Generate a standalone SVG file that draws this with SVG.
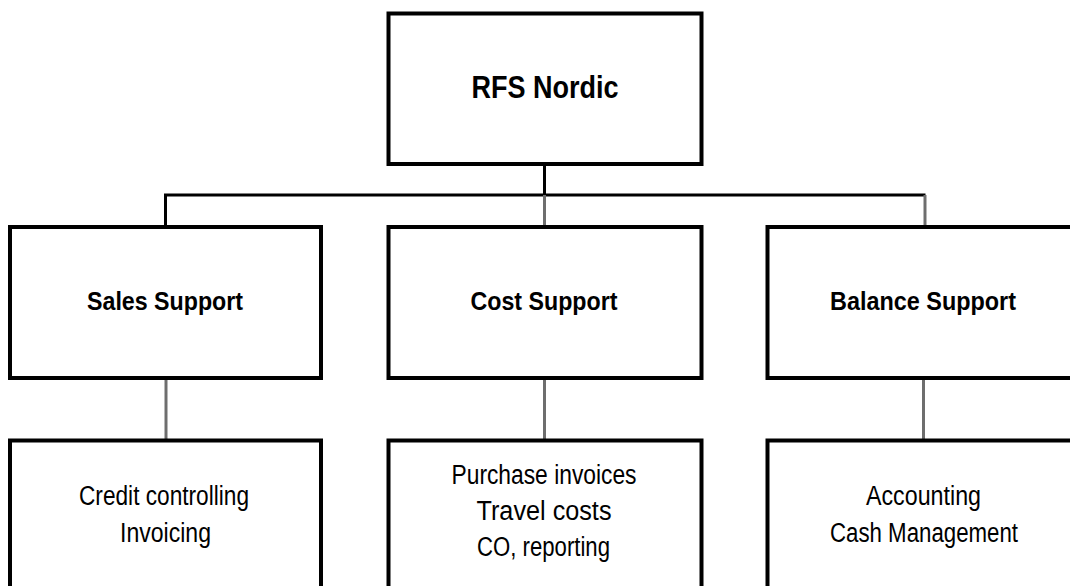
<svg xmlns="http://www.w3.org/2000/svg" width="1070" height="586" viewBox="0 0 1070 586">
<style>
.box{fill:#fff;stroke:#000;stroke-width:4}
.t{font-family:"Liberation Sans",Arial,sans-serif;fill:#000;text-anchor:middle}
.b{font-weight:bold;font-size:26px}
.r{font-size:27px}
.c{stroke:#000;stroke-width:3;fill:none}
.g{stroke:#6e6e6e;stroke-width:3;fill:none}
</style>
<rect width="1070" height="586" fill="#fff"/>
<g id="connectors">
<line class="c" x1="544.5" y1="166" x2="544.5" y2="195"/>
<line class="c" x1="164" y1="195" x2="925.5" y2="195"/>
<line class="c" x1="165.5" y1="195" x2="165.5" y2="226"/>
<line class="g" x1="544.5" y1="195" x2="544.5" y2="226"/>
<line class="g" x1="925" y1="195" x2="925" y2="226"/>
<line class="g" x1="166" y1="379" x2="166" y2="439"/>
<line class="g" x1="544.5" y1="379" x2="544.5" y2="439"/>
<line class="g" x1="923.5" y1="379" x2="923.5" y2="439"/>
</g>
<g id="rfs-nordic">
<rect class="box" x="388.5" y="13.5" width="313" height="150.5"/>
<text class="t" x="545" y="98" font-size="31" font-weight="bold" textLength="147" lengthAdjust="spacingAndGlyphs">RFS Nordic</text>
</g>
<g id="sales-support">
<rect class="box" x="10" y="227" width="311" height="151"/>
<text class="t b" x="165" y="310" textLength="156" lengthAdjust="spacingAndGlyphs">Sales Support</text>
</g>
<g id="cost-support">
<rect class="box" x="388.5" y="227" width="313" height="151"/>
<text class="t b" x="544" y="310" textLength="147" lengthAdjust="spacingAndGlyphs">Cost Support</text>
</g>
<g id="balance-support">
<rect class="box" x="767.5" y="227" width="320" height="151"/>
<text class="t b" x="923" y="310" textLength="186" lengthAdjust="spacingAndGlyphs">Balance Support</text>
</g>
<g id="sales-tasks">
<rect class="box" x="10" y="440.5" width="311" height="160"/>
<text class="t r" x="164" y="505" textLength="170" lengthAdjust="spacingAndGlyphs">Credit controlling</text>
<text class="t r" x="165.5" y="541.5" textLength="91" lengthAdjust="spacingAndGlyphs">Invoicing</text>
</g>
<g id="cost-tasks">
<rect class="box" x="388.5" y="440.5" width="313" height="160"/>
<text class="t r" x="544" y="483.5" textLength="185" lengthAdjust="spacingAndGlyphs">Purchase invoices</text>
<text class="t r" x="544" y="520" textLength="135" lengthAdjust="spacingAndGlyphs">Travel costs</text>
<text class="t r" x="543.5" y="555.5" textLength="133" lengthAdjust="spacingAndGlyphs">CO, reporting</text>
</g>
<g id="balance-tasks">
<rect class="box" x="767.5" y="440.5" width="320" height="160"/>
<text class="t r" x="923.5" y="505" textLength="115" lengthAdjust="spacingAndGlyphs">Accounting</text>
<text class="t r" x="924" y="541.5" textLength="188" lengthAdjust="spacingAndGlyphs">Cash Management</text>
</g>
</svg>
